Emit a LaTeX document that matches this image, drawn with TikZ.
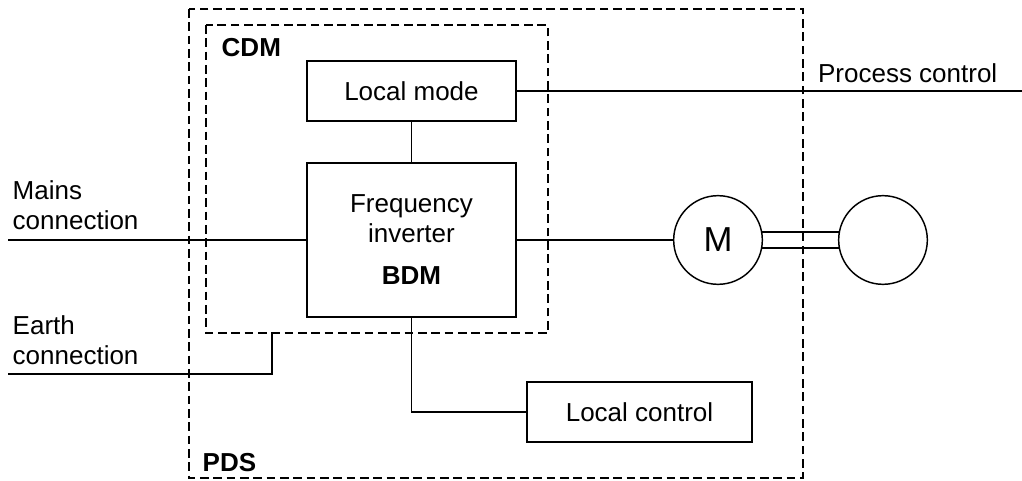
\documentclass[tikz,border=0pt]{standalone}
\usepackage{fontspec}
\setmainfont{Liberation Sans}
\tikzset{
  block/.style={
    draw,
    shape = rectangle,
    inner sep = 0pt,
    line width = 1.1pt
  },
  machine/.style={
    draw,
    shape = circle,
    inner sep = 0pt,
    minimum size = 66.5pt,
    line width = 1.1pt
  },
  boundary/.style={
    line width = 1.1pt,
    dash pattern = on 6.5pt off 3.5pt
  },
  wire/.style={
    line width = 1.1pt
  },
  every picture/.style = {
    x = 0.75pt,
    y = -0.75pt,
    font = \fontsize{19.5}{22.5}\selectfont
  }
}
\begin{document}
\begin{tikzpicture}
            \useasboundingbox (0,0) rectangle (1022,481);
            % system boundaries
            \draw[boundary] (189,9) rectangle (803,478);
            \draw[boundary] (206,25) rectangle (548,333);
            \node[anchor=base west] (cdm) at (217,57) {\bfseries CDM};
            \node[anchor=base west] (pds) at (198,471) {\bfseries PDS};
            % blocks
            \node[block, minimum width=157pt, minimum height=45pt] (mode) at (411.5,91) {Local mode};
            \node[block, minimum width=157pt, minimum height=115.5pt, align=center] (inv) at (411.5,240)
                {Frequency\\inverter\\[9pt]\bfseries BDM};
            \node[block, minimum width=169pt, minimum height=45pt] (lc) at (639.5,412) {Local control};
            \node[machine, font=\fontsize{26}{30}\selectfont] (motor) at (718,240) {M};
            \node[machine] (load) at (883,240) {};
            % outside connections
            \coordinate (mainsin) at (8,240);
            \coordinate (earthin) at (8,374);
            \coordinate (earthtap) at (272,333);
            \coordinate (pcout) at (1022,91);
            \node[anchor=base west, align=left] (mainstxt) at (8,230) {Mains\\connection};
            \node[anchor=base west, align=left] (earthtxt) at (8,364) {Earth\\connection};
            \node[anchor=base east] (pctxt) at (1002,83) {Process control};
            \draw[wire] (mainsin) -- (inv.west);
            \draw[wire] (earthin) -| (earthtap);
            \draw[wire] (mode.east) -- (pcout);
            \draw[wire] (mode) -- (inv);
            \draw[wire] (inv.south) |- (lc.west);
            \draw[wire] (inv.east) -- (motor.west);
            % shaft
            \draw[wire] (motor.10) -- (load.170);
            \draw[wire] (motor.-10) -- (load.190);
        \end{tikzpicture}
\end{document}
